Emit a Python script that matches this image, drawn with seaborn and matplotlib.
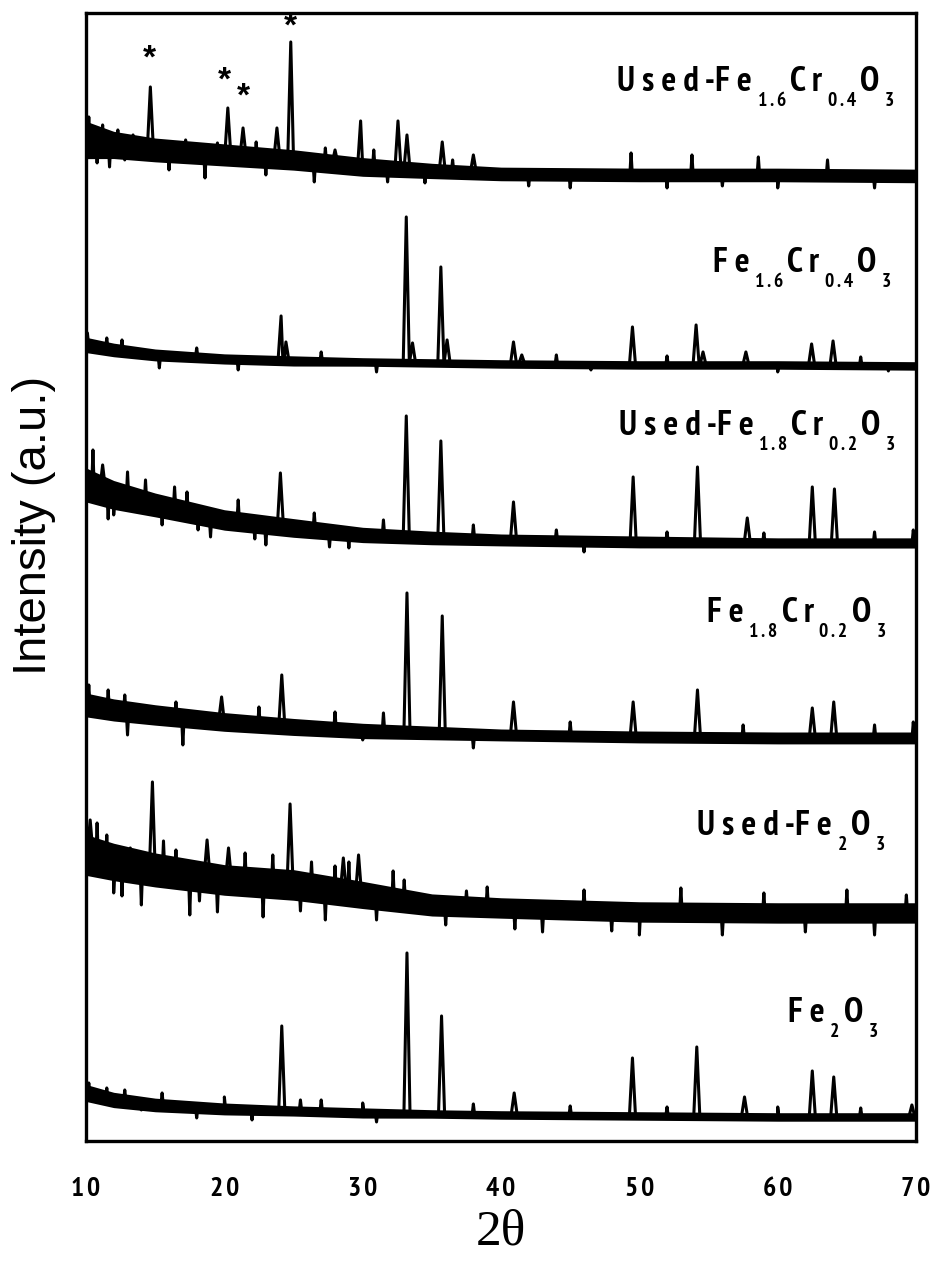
import numpy as np
import pandas as pd
import seaborn as sns
import matplotlib.pyplot as plt
from matplotlib import font_manager as fm

# knots along 2-theta where the baseline of every pattern was read
two_theta = [10, 12, 15, 20, 25, 30, 35, 40, 50, 60, 70]

# baseline centre / noise half-width (a.u.), top pattern first
base_used_fe16 = [1001, 996, 991, 986, 981, 974, 970, 967, 966, 966, 965]
noise_used_fe16 = [22, 16, 14, 13, 12, 11, 9, 8, 8, 8, 8]
base_fe16 = [796, 791, 786, 782, 780, 779, 778, 777, 776, 776, 775]
noise_fe16 = [9, 8, 7, 6, 6, 5, 5, 5, 5, 5, 5]
base_used_fe18 = [656, 646, 636, 621, 613, 606, 603, 601, 599, 598, 598]
noise_used_fe18 = [20, 17, 14, 12, 11, 9, 8, 7, 7, 6, 6]
base_fe18 = [436, 431, 426, 419, 414, 410, 408, 406, 404, 403, 403]
noise_fe18 = [14, 13, 12, 11, 10, 9, 8, 7, 7, 7, 7]
base_used_fe2o3 = [286, 279, 271, 261, 256, 246, 236, 233, 229, 228, 228]
noise_used_fe2o3 = [24, 22, 20, 18, 18, 16, 13, 12, 12, 12, 12]
base_fe2o3 = [48, 41, 36, 32, 30, 28, 27, 26, 25, 24, 24]
noise_fe2o3 = [10, 9, 8, 7, 6, 6, 5, 5, 5, 5, 5]

# reflections: position (2-theta) and apex (a.u.)
pk_used_fe16 = [14.65, 20.25, 21.35, 23.8, 24.8, 28.0, 29.85, 32.55, 33.2, 35.75, 38.0]
top_used_fe16 = [1054, 1033, 1013, 1013, 1099, 991, 1020, 1020, 1006, 999, 986]
pk_fe16 = [24.1, 24.45, 33.15, 33.6, 35.65, 36.1, 40.9, 41.5, 49.5, 54.1, 54.6, 57.7, 62.45, 64.0]
top_fe16 = [825, 799, 924, 798, 874, 801, 799, 786, 814, 816, 789, 789, 797, 800]
pk_used_fe18 = [11.2, 24.05, 33.15, 35.65, 40.9, 49.55, 54.2, 57.8, 62.5, 64.1]
top_used_fe18 = [676, 668, 725, 700, 639, 664, 674, 623, 654, 652]
pk_fe18 = [19.8, 24.15, 33.2, 35.75, 40.9, 49.55, 54.2, 62.5, 64.05]
top_fe18 = [444, 466, 548, 525, 439, 439, 451, 433, 439]
pk_used_fe2o3 = [10.3, 14.8, 18.75, 20.3, 24.75, 28.6, 29.7]
top_used_fe2o3 = [321, 359, 301, 293, 337, 283, 286]
pk_fe2o3 = [24.15, 33.2, 35.7, 40.95, 49.5, 54.15, 57.6, 62.5, 64.05, 69.7]
top_fe2o3 = [115, 188, 125, 48, 83, 94, 44, 70, 64, 36]

# single-channel noise spikes that stick out of the band (up and down)
sp_used_fe16 = [10.2, 10.8, 11.2, 11.7, 12.3, 12.8, 13.4, 16.0, 17.2, 18.6, 19.5, 22.3,
                23.0, 26.5, 27.3, 30.8, 31.8, 34.5, 36.5, 42.0, 45.0, 49.4, 52.0,
                53.8, 56.0, 58.6, 60.0, 63.6, 67.0]
sv_used_fe16 = [1024, 978, 1016, 974, 1011, 981, 1006, 971, 1001, 963, 998, 999,
                966, 959, 993, 991, 959, 958, 981, 955, 953, 988, 953,
                986, 955, 984, 953, 981, 953]
sp_fe16 = [10.1, 11.5, 12.6, 15.3, 18.0, 21.0, 27.0, 31.0, 44.0, 46.5, 52.0, 60.0, 66.0, 68.0]
sv_fe16 = [808, 803, 801, 773, 793, 771, 789, 769, 786, 771, 785, 769, 784, 770]
sp_used_fe18 = [10.5, 11.6, 12.0, 13.0, 14.3, 15.5, 16.4, 17.3, 18.1, 19.0, 21.0, 22.2,
                23.0, 26.5, 27.6, 29.0, 31.5, 38.0, 44.0, 46.0, 52.0, 59.0, 67.0, 69.8]
sv_used_fe18 = [691, 622, 626, 669, 661, 616, 654, 649, 611, 604, 641, 602,
                596, 628, 594, 593, 621, 616, 611, 589, 609, 608, 609, 611]
sp_fe18 = [10.2, 11.6, 12.8, 13.0, 16.5, 17.0, 22.5, 28.0, 30.0, 31.5, 38.0, 45.0,
           57.5, 67.0, 69.8]
sv_fe18 = [456, 451, 446, 406, 439, 396, 434, 429, 401, 428, 393, 419,
           416, 416, 419]
sp_used_fe2o3 = [10.8, 11.5, 12.0, 12.6, 13.2, 14.0, 15.6, 16.5, 17.5, 18.2, 19.5, 21.5,
                 22.8, 23.5, 25.5, 26.3, 27.3, 28.0, 29.0, 31.0, 32.2, 33.0, 36.0,
                 37.5, 39.0, 41.0, 43.0, 46.0, 48.0, 50.0, 53.0, 56.0, 59.0, 62.0,
                 65.0, 67.0, 69.3]
sv_used_fe2o3 = [318, 306, 248, 245, 293, 236, 300, 291, 226, 240, 229, 288,
                 224, 286, 230, 279, 221, 275, 279, 221, 270, 261, 216,
                 250, 254, 212, 209, 251, 210, 206, 253, 206, 248, 209,
                 251, 206, 246]
sp_fe2o3 = [10.2, 11.5, 12.8, 14.0, 15.5, 18.0, 20.0, 22.0, 25.5, 27.0, 30.0, 31.0,
            38.0, 45.0, 52.0, 60.0, 66.0]
sv_fe2o3 = [58, 53, 51, 31, 48, 23, 44, 21, 41, 41, 38, 19,
            37, 35, 34, 34, 33]

# sample labels, split in normal / subscript pieces (alternating);
# anchor = left edge in 2-theta, text baseline in a.u.
label_parts = [["U s e d -F e", "1 . 6", "C r", "0 . 4", "O", "3"],
               ["F e", "1 . 6", "C r", "0 . 4", "O", "3"],
               ["U s e d -F e", "1 . 8", "C r", "0 . 2", "O", "3"],
               ["F e", "1 . 8", "C r", "0 . 2", "O", "3"],
               ["U s e d -F e", "2", "O", "3"],
               ["F e", "2", "O", "3"]]
label_x = [48.4, 55.3, 48.5, 54.9, 54.2, 60.75]
label_y = [1050, 869, 706, 519, 306, 119]

# asterisks over the impurity reflections of the used Fe1.6Cr0.4O3
star_x = [14.6, 20.0, 21.35, 24.75]
star_y = [1082, 1060, 1044, 1114]

tick_vals = [10, 20, 30, 40, 50, 60, 70]
tick_text = ["1\u200a0", "2\u200a0", "3\u200a0", "4\u200a0", "5\u200a0", "6\u200a0", "7\u200a0"]

patterns = [
    (base_used_fe16, noise_used_fe16, pk_used_fe16, top_used_fe16, sp_used_fe16, sv_used_fe16),
    (base_fe16, noise_fe16, pk_fe16, top_fe16, sp_fe16, sv_fe16),
    (base_used_fe18, noise_used_fe18, pk_used_fe18, top_used_fe18, sp_used_fe18, sv_used_fe18),
    (base_fe18, noise_fe18, pk_fe18, top_fe18, sp_fe18, sv_fe18),
    (base_used_fe2o3, noise_used_fe2o3, pk_used_fe2o3, top_used_fe2o3, sp_used_fe2o3, sv_used_fe2o3),
    (base_fe2o3, noise_fe2o3, pk_fe2o3, top_fe2o3, sp_fe2o3, sv_fe2o3),
]

sns.set_style("white")


def pick_condensed():
    for f in fm.fontManager.ttflist:
        if "Narrow" in f.name and f.weight in ("bold", 700):
            return f.name, "normal"
    for f in fm.fontManager.ttflist:
        if f.stretch == "condensed" and f.weight in ("bold", 700) and "Sans" in f.name:
            return f.name, "condensed"
    return "Liberation Sans", "normal"


cond_name, cond_stretch = pick_condensed()
plt.rcParams["font.family"] = [cond_name, "DejaVu Sans"]
plt.rcParams["font.stretch"] = cond_stretch
for k in ["text.color", "axes.labelcolor", "xtick.color", "axes.edgecolor"]:
    plt.rcParams[k] = "black"

fig = plt.figure(figsize=(9.3, 12.69), dpi=100)
ax = fig.add_axes([0.0925, 0.1009, 0.8925, 0.8889])

for base, noise, pk, top, sp, sv in patterns:
    b = np.array(base, dtype=float)
    n = np.array(noise, dtype=float) * 0.85
    ax.fill_between(two_theta, b - n, b + n, color="black", lw=0)
    xs = list(two_theta)
    ys = list(base)
    for group, half in ((zip(pk, top), 0.22), (zip(sp, sv), 0.09)):
        for p, t in group:
            yb = np.interp(p, two_theta, base)
            xs += [p - half, p, p + half]
            ys += [yb, t, yb]
    df = pd.DataFrame({"x": xs, "y": ys}).sort_values("x", kind="stable")
    sns.lineplot(data=df, x="x", y="y", ax=ax, color="black", lw=2.2,
                 sort=False, estimator=None)

# labels: each piece is chained to the right edge of the one before it
for parts, lx, ly in zip(label_parts, label_x, label_y):
    prev = ax.text(lx, ly, parts[0], ha="left", va="baseline", fontsize=25,
                   fontweight="bold")
    for j, piece in enumerate(parts[1:]):
        sub = j % 2 == 0
        prev = ax.annotate(piece, xy=(1, ly), xycoords=(prev, "data"),
                           xytext=(4 if sub else 3, -11 if sub else 0),
                           textcoords="offset points", ha="left", va="baseline",
                           fontsize=14 if sub else 25, fontweight="bold")

for sx, sy in zip(star_x, star_y):
    ax.text(sx, sy, "*", ha="center", va="center", fontsize=24,
            fontweight="bold", family="Liberation Sans")

ax.set_xlim(10, 70)
ax.set_ylim(0, 1128)
ax.set_yticks([])
ax.set_xticks(tick_vals)
ax.set_xticklabels(tick_text, fontsize=20, fontweight="bold")
ax.set_xticks([15, 25, 35, 45, 55, 65], minor=True)
ax.tick_params(axis="x", which="major", direction="out", length=14, width=2.5, pad=12)
ax.tick_params(axis="x", which="minor", direction="out", length=8, width=2.5)
for s in ax.spines.values():
    s.set_linewidth(2.4)

ax.set_xlabel("2θ", fontsize=37, family="Liberation Serif", labelpad=6)
ax.set_ylabel("Intensity (a.u.)", fontsize=34, family="Liberation Sans",
              fontstretch="normal")
ax.yaxis.set_label_coords(-0.036, 0.546)

fig.savefig("out.png", dpi=100)
